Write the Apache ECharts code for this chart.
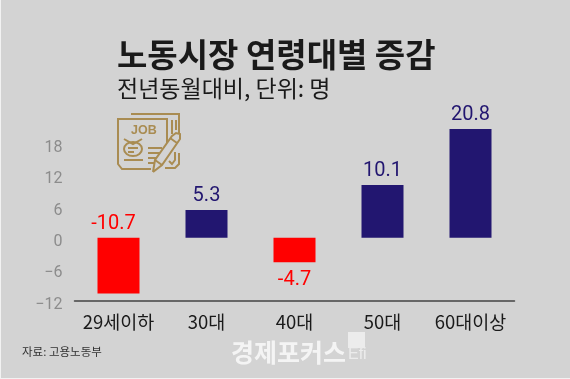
<!DOCTYPE html>
<html><head><meta charset="utf-8">
<style>html,body{margin:0;padding:0;background:#d3d3d3}#c{width:570px;height:379px}</style>
<script src="https://cdn.jsdelivr.net/npm/echarts@6/dist/echarts.min.js"></script>
</head><body><div id="c"></div>
<script>
const categories = ['29세이하','30대','40대','50대','60대이상'];
const values = [-10.7, 5.3, -4.7, 10.1, 20.8];
const labelTexts = ['-10.7','5.3','-4.7','10.1','20.8'];
const labelPositions = ['top','top','bottom','top','top'];
const titleText = '노동시장 연령대별 증감';
const subtitleText = '전년동월대비, 단위: 명';
const sourceText = '자료: 고용노동부';
const brandText = '경제포커스';
const FONT = '"Noto Sans CJK KR"';
const NUM = 'Roboto';
const gold = '#a98c52', red = '#ff0000', navy = '#221670';
const chart = echarts.init(document.getElementById('c'), null, {renderer:'canvas'});
const line = (pts, w) => ({type:'polyline', shape:{points:pts}, style:{stroke:gold, fill:null, lineWidth:w||2}, silent:true});
chart.setOption({
  backgroundColor:'#d3d3d3',
  animation:false,
  grid:{left:74.5, width:440, top:112.3, height:188},
  xAxis:{type:'category', data:categories, position:'bottom',
    axisLine:{onZero:false, lineStyle:{color:'#444', width:1.5}}, axisTick:{show:false},
    axisLabel:{interval:0, color:'#1a1a1a', fontFamily:FONT, fontSize:18.5, margin:12}},
  yAxis:{type:'value', min:-12, max:24, interval:6, splitLine:{show:false}, axisLine:{show:false}, axisTick:{show:false},
    axisLabel:{color:'#8c8c8c', fontFamily:NUM, fontSize:16, margin:12, verticalAlign:'top', lineHeight:9,
      formatter:v=> v===24 ? '' : String(v).replace('-','−')}},
  series:[{type:'bar', barWidth:42,
    data:values.map((v,i)=>({value:v,
      itemStyle:{color:v<0?red:navy},
      label:{show:true, position:labelPositions[i], distance:i===2?8:4, offset:i===0?[-5,0]:[0,0], formatter:labelTexts[i],
        color:v<0?red:navy, fontFamily:NUM, fontSize:20}}))}],
  graphic:[
    {type:'rect', shape:{x:0,y:0,width:1,height:379}, style:{fill:'#f2f2f2'}, silent:true},
    {type:'rect', shape:{x:0,y:378,width:570,height:1}, style:{fill:'#f2f2f2'}, silent:true},
    {type:'text', left:117, top:38, style:{text:titleText, font:'bold 33px '+FONT, fill:'#1a1a1a'}},
    {type:'text', left:117, top:77, style:{text:subtitleText, font:'23px '+FONT, fill:'#1a1a1a'}},
    {type:'text', left:22, top:346, style:{text:sourceText, font:'11.5px '+FONT, fill:'#333'}},
    {type:'text', left:231, top:340, style:{text:brandText, font:'bold 25px '+FONT, fill:'#f4f4f4'}},
    {type:'rect', shape:{x:348,y:332,width:17,height:16}, style:{fill:'#ececec'}, silent:true},
    {type:'text', left:348, top:347, style:{text:'Efi', font:'16px "Liberation Sans"', fill:'#ececec'}},
    {type:'group', children:[
      line([[167,143],[167,119],[118,119],[118,164],[122,169],[151,169]]),
      line([[131,114],[179,114],[179,133]]),
      line([[172,120],[172,134]]),line([[176,120],[176,130]]),
      line([[179,153],[179,164],[175,168],[165,168]]),
      line([[175,152],[175,160],[172,164],[169,161]]),
      line([[124,160],[143,160]]),
      line([[148,148],[162,148]]),line([[148,153],[160,153]]),line([[148,158],[157,158]]),line([[148,163],[154,163]]),
      {type:'ellipse', shape:{cx:133,cy:149,rx:9,ry:7}, style:{stroke:gold, fill:null, lineWidth:2}, silent:true},
      line([[128,148],[138,148]]),line([[128,152],[134,152]]),
      line([[124,139],[133,144],[142,139]]),
      {type:'text', left:131, top:124, style:{text:'JOB', font:'bold 12.5px "Liberation Sans"', fill:gold}},
      line([[153,172],[155,160],[172,136],[176,133],[180,134],[180,139],[162,165],[153,172]]),
      line([[155,160],[162,165]]),
      line([[170,138],[177,143]])
    ]}
  ]
});
</script></body></html>
